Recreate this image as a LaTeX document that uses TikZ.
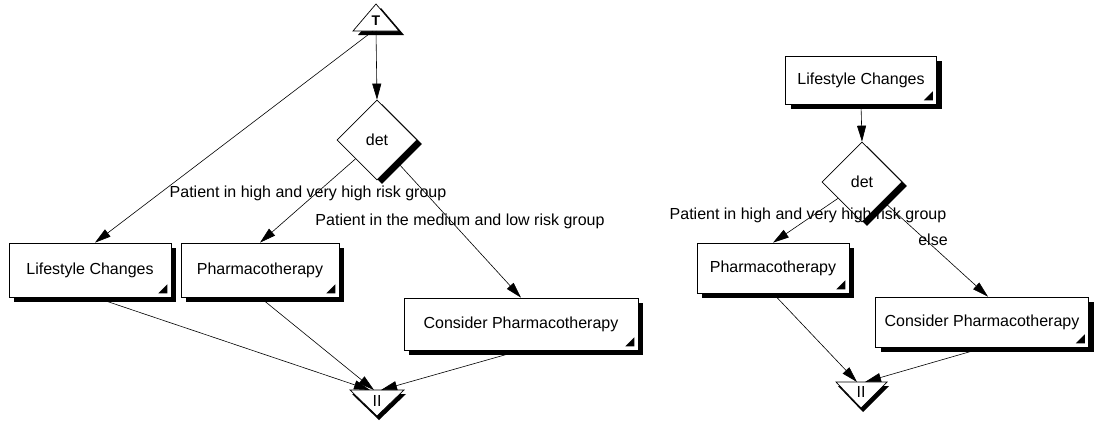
\documentclass[tikz,border=0pt]{standalone}
\usepackage{fontspec}
\setmainfont{Liberation Sans}
\usetikzlibrary{shapes.geometric,shadows,arrows.meta}

\tikzset{
  action/.style={draw, fill=white, rectangle, inner sep=0pt, line width=0.7pt,
    drop shadow={shadow xshift=5pt, shadow yshift=-5pt, fill=black, opacity=1}},
  decide/.style={draw, fill=white, diamond, minimum width=80pt, minimum height=80pt,
    inner sep=0pt, line width=0.7pt,
    drop shadow={shadow xshift=5pt, shadow yshift=-4pt, fill=black, opacity=1}},
  flow/.style={line width=0.6pt, -{Triangle[length=16pt,width=9pt]}},
  caption/.style={inner sep=0pt},
}
\newcommand{\cornermark}[1]{\fill ([shift={(-4pt,4pt)}]#1.south east) -- ++(-9pt,0pt) -- ++(9pt,9pt) -- cycle;}

\begin{document}
\begin{tikzpicture}[x=1pt,y=-1pt,font=\fontsize{16}{18}\selectfont]
      \useasboundingbox (0,0) rectangle (1094,423);

      % left flow
      \fill (381,8) -- (404,35) -- (358,35) -- cycle;
      \filldraw[fill=white, line width=0.7pt] (376,4) -- (399,31) -- (353,31) -- cycle;
      \node[font=\fontsize{14}{16}\selectfont\bfseries] (startL) at (376,21) {T};
      \coordinate (startLb) at (376,31);

      \node[decide] (detL) at (377,140) {det};
      \node[action, minimum width=162pt, minimum height=54pt] (lsL) at (90,270) {Lifestyle Changes};
      \node[action, minimum width=158pt, minimum height=54pt] (phL) at (260,270) {Pharmacotherapy};
      \node[action, minimum width=234pt, minimum height=52pt] (cpL) at (521,324) {Consider Pharmacotherapy};
      \cornermark{lsL}
      \cornermark{phL}
      \cornermark{cpL}

      \fill (352,394) -- (406,394) -- (379,420) -- cycle;
      \filldraw[fill=white, line width=0.7pt] (350,390) -- (404,390) -- (377,416) -- cycle;
      \node (endL) at (377,401) {II};
      \coordinate (endLt) at (377,390);

      \draw[flow] (startLb) -- (detL.north);
      \draw[flow] ([xshift=-3pt]startLb) -- ([xshift=5pt]lsL.north);
      \draw[flow] (detL) -- (phL.north);
      \draw[flow] (detL) -- (cpL.north);
      \draw[flow] ([xshift=5pt]lsL.south) -- ([xshift=-7pt]endLt);
      \draw[flow] (phL.south) -- ([xshift=-3pt]endLt);
      \draw[flow] (cpL.south) -- ([xshift=4pt]endLt);

      \node[caption] (hiL) at (308,193) {Patient in high and very high risk group};
      \node[caption] (loL) at (460,221) {Patient in the medium and low risk group};

      % right flow
      \node[action, minimum width=151pt, minimum height=48pt] (lsR) at (861,80) {Lifestyle Changes};
      \node[decide] (detR) at (862,182) {det};
      \node[action, minimum width=152pt, minimum height=50pt] (phR) at (773,268) {Pharmacotherapy};
      \node[action, minimum width=213pt, minimum height=50pt] (cpR) at (982,322) {Consider Pharmacotherapy};
      \cornermark{lsR}
      \cornermark{phR}
      \cornermark{cpR}

      \fill (838,386) -- (889,386) -- (863,412) -- cycle;
      \filldraw[fill=white, line width=0.7pt] (836,382) -- (887,382) -- (861,408) -- cycle;
      \node (endR) at (861,392) {II};
      \coordinate (endRt) at (861,382);

      \draw[flow] (lsR.south) -- (detR.north);
      \draw[flow] (detR) -- (phR.north);
      \draw[flow] (detR) -- ([xshift=6pt]cpR.north);
      \draw[flow] (phR.south) -- ([xshift=-4pt]endRt);
      \draw[flow] ([xshift=3pt]cpR.south) -- ([xshift=4pt]endRt);

      \node[caption] (hiR) at (808,215) {Patient in high and very high risk group};
      \node[caption] (elseR) at (933,240) {else};
    \end{tikzpicture}
\end{document}
